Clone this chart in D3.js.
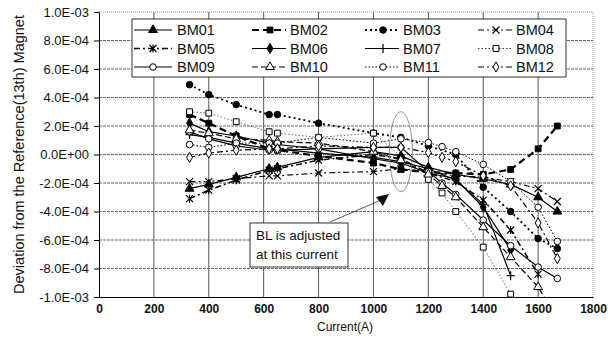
<!DOCTYPE html>
<html><head><meta charset="utf-8">
<script src="https://cdn.jsdelivr.net/npm/d3@7"></script>
<style>body{margin:0;background:#fff}svg{display:block;font-family:"Liberation Sans",Arial,sans-serif}</style>
</head><body><svg id="c" width="608" height="354"></svg>
<script>
// Currents (A) at which magnets were measured
const currents = [330, 400, 500, 620, 650, 800, 1000, 1100, 1200, 1250, 1300, 1400, 1500, 1600, 1670];
// Deviation values (null = not measured)
const BM01 = [-2.4e-4,-2.1e-4,-1.6e-4,-1.0e-4,-0.9e-4,-0.2e-4,0.2e-4,-0.1e-4,-0.9e-4,null,-1.4e-4,-1.7e-4,-2.1e-4,-3.0e-4,-4.0e-4];
const BM02 = [2.8e-4,2.2e-4,1.3e-4,0.4e-4,0.3e-4,-0.1e-4,-0.6e-4,-1.05e-4,-1.25e-4,null,-1.3e-4,-1.4e-4,-1.05e-4,0.4e-4,2.0e-4];
const BM03 = [4.9e-4,4.2e-4,3.5e-4,2.8e-4,2.8e-4,2.2e-4,1.5e-4,1.2e-4,0.6e-4,null,0.0,-2.3e-4,-4.0e-4,-5.9e-4,-6.6e-4];
const BM04 = [-1.9e-4,-1.9e-4,-1.7e-4,-1.5e-4,-1.5e-4,-1.3e-4,-1.2e-4,-1.0e-4,-1.2e-4,null,-1.5e-4,-1.6e-4,-1.9e-4,-2.4e-4,-3.3e-4];
const BM05 = [-3.1e-4,-2.5e-4,-1.8e-4,-1.1e-4,-1.0e-4,-0.4e-4,0.0,-0.3e-4,-1.3e-4,null,-1.9e-4,-3.2e-4,-5.3e-4,-8.4e-4,null];
const BM06 = [2.2e-4,1.6e-4,1.3e-4,0.8e-4,0.7e-4,0.4e-4,-0.3e-4,-0.6e-4,-1.3e-4,null,-1.7e-4,-3.7e-4,-6.7e-4,null,null];
const BM07 = [1.4e-4,1.2e-4,0.8e-4,0.4e-4,0.4e-4,0.1e-4,-0.2e-4,-0.5e-4,-1.0e-4,null,-1.8e-4,-3.5e-4,-8.5e-4,null,null];
const BM08 = [3.0e-4,2.9e-4,2.3e-4,1.6e-4,1.5e-4,1.2e-4,1.5e-4,null,-1.75e-4,-2.7e-4,-4.0e-4,-6.5e-4,-9.8e-4,null,null];
const BM09 = [1.6e-4,1.1e-4,0.6e-4,0.3e-4,0.3e-4,0.4e-4,0.5e-4,0.5e-4,-1.2e-4,-2.0e-4,-2.8e-4,-4.6e-4,-6.4e-4,-7.9e-4,-8.7e-4];
const BM10 = [1.7e-4,1.5e-4,1.1e-4,1.0e-4,0.9e-4,0.8e-4,0.2e-4,-0.4e-4,-1.4e-4,-2.2e-4,-3.0e-4,-5.1e-4,-7.2e-4,-9.3e-4,-11.5e-4];
const BM11 = [0.7e-4,0.5e-4,0.8e-4,0.8e-4,0.8e-4,1.2e-4,0.8e-4,1.1e-4,0.84e-4,0.55e-4,0.2e-4,-0.7e-4,-1.9e-4,-3.7e-4,-6.1e-4];
const BM12 = [-0.2e-4,0.1e-4,0.3e-4,0.4e-4,0.4e-4,0.6e-4,0.5e-4,0.5e-4,0.14e-4,-0.2e-4,-0.5e-4,-1.5e-4,-2.2e-4,-4.8e-4,-7.3e-4];
const seriesNames = ["BM01","BM02","BM03","BM04","BM05","BM06","BM07","BM08","BM09","BM10","BM11","BM12"];
const seriesValues = [BM01,BM02,BM03,BM04,BM05,BM06,BM07,BM08,BM09,BM10,BM11,BM12];
const xTicks = [0,200,400,600,800,1000,1200,1400,1600,1800];
const yTicks = [-1e-3,-8e-4,-6e-4,-4e-4,-2e-4,0,2e-4,4e-4,6e-4,8e-4,1e-3];
const xTitle = "Current(A)";
const yTitle = "Deviation from the Reference(13th) Magnet";
const noteLines = ["BL is adjusted","at this current"];

// styles per series
const styles = [
 {dash:null, w:1.2, m:"triF"},
 {dash:"7,4", w:2.2, m:"sqF"},
 {dash:"2,3", w:1.8, m:"cirF"},
 {dash:"6,3,2,3", w:1.2, m:"x"},
 {dash:"6,3,2,3", w:1.5, m:"ast"},
 {dash:null, w:1.2, m:"diaF"},
 {dash:null, w:1.2, m:"plus"},
 {dash:"1.5,2", w:0.8, m:"sqO"},
 {dash:null, w:1.2, m:"cirO"},
 {dash:"6,3", w:1.2, m:"triO"},
 {dash:"1.5,2", w:1, m:"cirO"},
 {dash:"6,3,2,3", w:1.2, m:"diaO"}
];

const svg = d3.select("#c");
const X0=99, X1=593, Y0=12, Y1=297;
const x = d3.scaleLinear().domain([0,1800]).range([X0,X1]);
const y = d3.scaleLinear().domain([-1e-3,1e-3]).range([Y1,Y0]);

svg.append("defs").append("clipPath").attr("id","pc").append("rect")
  .attr("x",X0).attr("y",Y0).attr("width",X1-X0).attr("height",Y1-Y0);

// grid
const g = svg.append("g");
g.selectAll(".vg").data(xTicks.slice(1)).enter().append("line")
  .attr("x1",d=>x(d)).attr("x2",d=>x(d)).attr("y1",Y0).attr("y2",Y1)
  .attr("stroke",d=>d===1800?"#999":"#555").attr("stroke-width",1)
  .attr("stroke-dasharray",d=>d===1800?"1,1":null);
g.selectAll(".hg").data(yTicks.slice(1)).enter().append("line")
  .attr("x1",X0).attr("x2",X1).attr("y1",d=>y(d)).attr("y2",d=>y(d))
  .attr("stroke",d=>d===1e-3?"#999":"#666").attr("stroke-width",1)
  .attr("stroke-dasharray",d=>d===1e-3?"1,1":"3,1");

// axes
function fmtE(v){
  if (Math.abs(v)<1e-12) return "0.0E+00";
  const e = Math.floor(Math.log10(Math.abs(v))+1e-9);
  const m = v/Math.pow(10,e);
  const es = (e<0?"-":"+") + String(Math.abs(e)).padStart(2,"0");
  return m.toFixed(1)+"E"+es;
}
const yAxis = d3.axisLeft(y).tickValues(yTicks).tickFormat(fmtE).tickSize(5).tickPadding(4);
const ya = svg.append("g").attr("transform",`translate(${X0},0)`).call(yAxis);
ya.select(".domain").attr("stroke","#000");
ya.selectAll("text").attr("font-size",13).attr("fill","#111").attr("dx",-1);
const xAxis = d3.axisBottom(x).tickValues(xTicks).tickFormat(d3.format("d")).tickSize(0).tickPadding(7);
const xa = svg.append("g").attr("transform",`translate(0,${Y1})`).call(xAxis);
xa.select(".domain").attr("stroke","#000");
xa.selectAll("text").attr("font-size",12).attr("fill","#111").attr("font-weight","bold");

svg.append("text").attr("x",345).attr("y",331).attr("text-anchor","middle")
  .attr("font-size",12).attr("fill","#111").text(xTitle);
svg.append("text").attr("transform",`translate(24,${(Y0+Y1)/2}) rotate(-90)`)
  .attr("text-anchor","middle").attr("font-size",14.5).attr("fill","#111").text(yTitle);

// marker drawing
function marker(sel, type, cx, cy){
  const s = sel.append("g").attr("transform",`translate(${cx},${cy})`);
  const sym = (t,size,fill)=> s.append("path").attr("d",d3.symbol().type(t).size(size)())
      .attr("fill",fill).attr("stroke","#000").attr("stroke-width",1);
  switch(type){
    case "triF": sym(d3.symbolTriangle,34,"#000"); break;
    case "triO": sym(d3.symbolTriangle,34,"#fff"); break;
    case "sqF": sym(d3.symbolSquare,34,"#000"); break;
    case "sqO": sym(d3.symbolSquare,34,"#fff"); break;
    case "cirF": sym(d3.symbolCircle,34,"#000"); break;
    case "cirO": sym(d3.symbolCircle,34,"#fff"); break;
    case "diaF": sym(d3.symbolDiamond,30,"#000"); break;
    case "diaO": sym(d3.symbolDiamond,30,"#fff"); break;
    case "x": s.append("path").attr("d","M-3.5,-3.5L3.5,3.5M-3.5,3.5L3.5,-3.5").attr("stroke","#000").attr("stroke-width",1.2); break;
    case "ast": s.append("path").attr("d","M-3.5,-3.5L3.5,3.5M-3.5,3.5L3.5,-3.5M0,-4L0,4").attr("stroke","#000").attr("stroke-width",1.2); break;
    case "plus": s.append("path").attr("d","M-4,0L4,0M0,-4.5L0,4.5").attr("stroke","#000").attr("stroke-width",1.2); break;
  }
}

// series
const plot = svg.append("g").attr("clip-path","url(#pc)");
const line = d3.line().defined(d=>d[1]!==null).x(d=>x(d[0])).y(d=>y(d[1]));
seriesValues.forEach((vals,i)=>{
  const pts = currents.map((c,j)=>[c,vals[j]]).filter(d=>d[1]!==null);
  const st = styles[i];
  plot.append("path").datum(pts).attr("d",line).attr("fill","none")
    .attr("stroke",st.m==="sqO"?"#444":"#000").attr("stroke-width",st.w)
    .attr("stroke-dasharray",st.dash);
});
seriesValues.forEach((vals,i)=>{
  currents.forEach((c,j)=>{
    const v = vals[j];
    if (v===null || v<-1e-3) return;
    marker(plot, styles[i].m, x(c), y(v));
  });
});

// ellipse + annotation
svg.append("ellipse").attr("cx",x(1100)).attr("cy",y(0.2e-4)).attr("rx",11.5).attr("ry",40)
  .attr("fill","none").attr("stroke","#777").attr("stroke-width",0.8);
svg.append("line").attr("x1",330).attr("y1",222).attr("x2",381).attr("y2",200)
  .attr("stroke","#333").attr("stroke-width",0.8);
svg.append("path").attr("d","M389,194 L376,197 L383,206 Z").attr("fill","#111");
svg.append("rect").attr("x",250).attr("y",223).attr("width",98).attr("height",44)
  .attr("fill","#fff").attr("stroke","#333").attr("stroke-width",1);
noteLines.forEach((t,i)=> svg.append("text").attr("x",256).attr("y",240+i*19)
  .attr("font-size",13.5).attr("fill","#111").text(t));

// legend
const lg = svg.append("g");
lg.append("rect").attr("x",132).attr("y",19).attr("width",434).attr("height",58)
  .attr("fill","#fff").attr("stroke","#333").attr("stroke-width",1);
const colX = [134, 248, 361, 474];
const rowY = [30, 48.5, 67];
seriesNames.forEach((n,i)=>{
  const c = i%4, r = Math.floor(i/4);
  const lx = colX[c], ly = rowY[r];
  const st = styles[i];
  lg.append("line").attr("x1",lx+(c===0?0:4)).attr("x2",lx+38).attr("y1",ly).attr("y2",ly)
    .attr("stroke","#000").attr("stroke-width",Math.min(st.w,2)).attr("stroke-dasharray",st.dash);
  marker(lg, st.m, lx+(c===0?19:22), ly);
  lg.append("text").attr("x",lx+(c===0?43:42)).attr("y",ly+5).attr("font-size",14.5)
    .attr("fill","#111").text(n);
});
</script></body></html>
